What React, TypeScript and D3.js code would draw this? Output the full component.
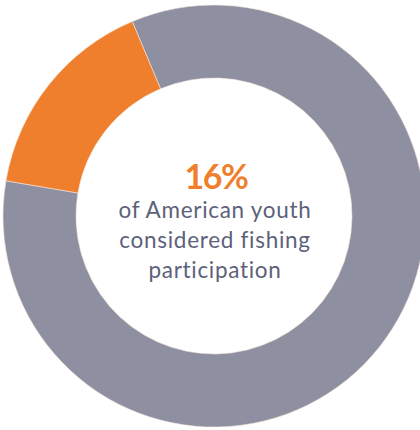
import * as d3 from "d3";
import React from "react";

const categories = ["Not participating", "Considered fishing"];
const values = [84, 16];
const colors = ["#8e8fa1", "#f07f2d"];
const headline = "16%";
const captionLines = ["of American youth", "considered fishing", "participation"];

const width = 420;
const height = 430;
const cx = 214;
const cy = 216;
const outerR = 211;
const innerR = 138;

const App = () => {
  const pie = d3
    .pie<number>()
    .sort(null)
    .startAngle((-22.8 * Math.PI) / 180)
    .endAngle((-22.8 * Math.PI) / 180 + 2 * Math.PI);
  const arcs = pie(values);
  const arc = d3.arc<d3.PieArcDatum<number>>().innerRadius(innerR).outerRadius(outerR);

  return (
    <svg
      width={width}
      height={height}
      style={{ position: "absolute", left: 0, top: 0 }}
    >
      <rect width={width} height={height} fill="#ffffff" />
      <g transform={`translate(${cx},${cy})`}>
        {arcs.map((a, i) => (
          <path
            key={categories[i]}
            d={arc(a) ?? ""}
            fill={colors[i]}
            stroke="#f3e6dc"
            strokeWidth={0.6}
          />
        ))}
        <text
          x={2}
          y={-27}
          textAnchor="middle"
          fontFamily="Lato, sans-serif"
          fontWeight={700}
          fontSize={34}
          letterSpacing={-1.5}
          fill="#f07f2d"
        >
          {headline}
        </text>
        {captionLines.map((line, i) => (
          <text
            key={line}
            x={1}
            y={2 + i * 30}
            textAnchor="middle"
            fontFamily="Lato, sans-serif"
            fontWeight={400}
            fontSize={22.5}
            letterSpacing={0.7}
            fill="#5d617a"
          >
            {line}
          </text>
        ))}
      </g>
    </svg>
  );
};

export default App;
